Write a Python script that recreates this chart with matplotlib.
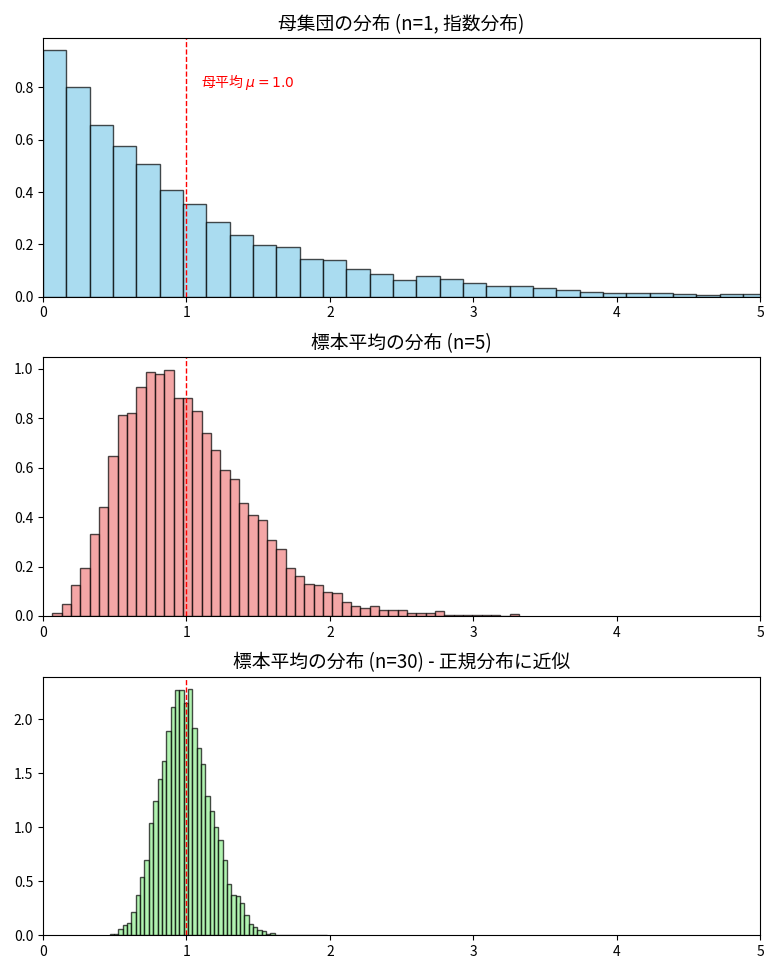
import numpy as np
import matplotlib
matplotlib.use("Agg")
import matplotlib.pyplot as plt

plt.rcParams['font.family'] = ['Noto Sans CJK JP', 'DejaVu Sans']
plt.rcParams['axes.unicode_minus'] = False

# 母集団 (指数分布) のヒストグラム: 密度
pop_start, pop_width = 0.0, 0.1627
pop_density = [0.942, 0.800, 0.658, 0.577, 0.507, 0.408, 0.355, 0.287, 0.235, 0.196,
               0.190, 0.142, 0.139, 0.106, 0.085, 0.0625, 0.078, 0.066, 0.051, 0.041,
               0.041, 0.034, 0.027, 0.018, 0.013, 0.013, 0.014, 0.010, 0.006, 0.011,
               0.008]

# 標本平均 (n=5)
n5_start, n5_width = 0.0653, 0.0651
n5_density = [0.0135, 0.047, 0.126, 0.196, 0.330, 0.441, 0.647, 0.812, 0.820, 0.926,
              0.986, 0.981, 0.997, 0.884, 0.884, 0.828, 0.740, 0.670, 0.591, 0.556,
              0.457, 0.410, 0.387, 0.307, 0.272, 0.192, 0.161, 0.129, 0.124, 0.096,
              0.092, 0.058, 0.042, 0.034, 0.039, 0.024, 0.024, 0.022, 0.011, 0.011,
              0.011, 0.019, 0.004, 0.004, 0.004, 0.004, 0.004, 0.004, 0.0, 0.007]

# 標本平均 (n=30)
n30_start, n30_width = 0.4651, 0.0303
n30_density = [0.010, 0.015, 0.055, 0.096, 0.115, 0.215, 0.37, 0.54, 0.70, 1.04,
               1.24, 1.45, 1.61, 1.89, 2.11, 2.27, 2.27, 2.15, 2.28, 1.92,
               1.73, 1.59, 1.29, 1.15, 1.00, 0.88, 0.70, 0.47, 0.37, 0.36,
               0.30, 0.19, 0.105, 0.077, 0.046, 0.037, 0.010, 0.022, 0.004, 0.003,
               0.0, 0.0, 0.0, 0.0, 0.0, 0.0, 0.0, 0.0, 0.0, 0.003]

mu = 1.0

panels = [
    (pop_start, pop_width, pop_density, 'skyblue', '母集団の分布 (n=1, 指数分布)'),
    (n5_start, n5_width, n5_density, 'lightcoral', '標本平均の分布 (n=5)'),
    (n30_start, n30_width, n30_density, 'lightgreen', '標本平均の分布 (n=30) - 正規分布に近似'),
]

fig, axes = plt.subplots(3, 1, figsize=(7.78, 9.72), dpi=100)
fig.subplots_adjust(left=0.0553, right=0.9769, top=0.9609, bottom=0.0378, hspace=0.235)

for ax, (start, width, dens, color, title) in zip(axes, panels):
    edges = start + width * np.arange(len(dens) + 1)
    ax.bar(edges[:-1], dens, width=width, align='edge', color=color,
           alpha=0.7, edgecolor='black', linewidth=1)
    ax.axvline(mu, color='red', linestyle='--', linewidth=1)
    ax.set_xlim(0, 5)
    ax.set_ylim(0, max(dens) * 1.05)
    ax.set_title(title, fontsize=13.5)

axes[0].text(1.1, 0.8, r'母平均 $\mu = 1.0$', color='red', fontsize=10)

fig.savefig('out.png', dpi=100)
